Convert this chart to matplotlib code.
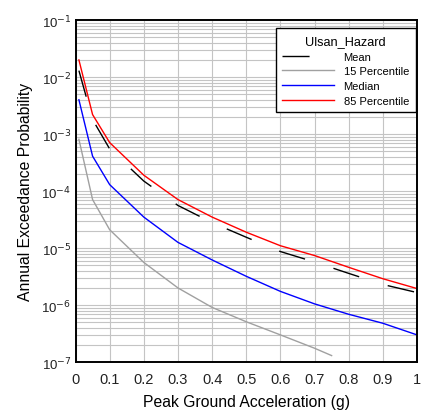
import numpy as np
import matplotlib
matplotlib.use("Agg")
from matplotlib import pyplot as plt

# hazard curves
pga = [0.01, 0.05, 0.1, 0.2, 0.3, 0.4, 0.5, 0.6, 0.7, 0.8, 0.9, 1.0]
mean = [1.3e-2, 1.8e-3, 5.5e-4, 1.5e-4, 5.6e-5, 2.8e-5, 1.55e-5, 8.7e-6, 5.7e-6, 3.6e-6, 2.3e-6, 1.66e-6]
median = [4.0e-3, 4.1e-4, 1.3e-4, 3.5e-5, 1.26e-5, 6.2e-6, 3.2e-6, 1.74e-6, 1.05e-6, 6.9e-7, 4.8e-7, 3.0e-7]
p85 = [2.0e-2, 2.2e-3, 7.1e-4, 1.9e-4, 7.1e-5, 3.5e-5, 1.9e-5, 1.1e-5, 7.4e-6, 4.6e-6, 2.9e-6, 1.95e-6]
pga15 = [0.01, 0.05, 0.1, 0.2, 0.3, 0.4, 0.5, 0.6, 0.7, 0.75]
p15 = [8.1e-4, 7.1e-5, 2.1e-5, 5.6e-6, 2.0e-6, 9.1e-7, 5.1e-7, 3.0e-7, 1.75e-7, 1.3e-7]

plt.rcParams['font.family'] = ['Liberation Sans', 'DejaVu Sans']

fig = plt.figure(figsize=(4.29, 4.14), dpi=100)
ax = fig.add_axes([0.176, 0.123, 0.796, 0.826])

ln, = ax.plot(pga, mean, color='black', lw=1.0, label='Mean')
ln.set_dashes((19.5, 21.5))
ax.plot(pga15, p15, color='#a0a0a0', lw=1.0, label='15 Percentile')
ax.plot(pga, median, color='#0000ff', lw=1.0, label='Median')
ax.plot(pga, p85, color='#ff0000', lw=1.0, label='85 Percentile')

ax.set_yscale('log')
ax.set_xlim(0, 1)
ax.set_ylim(1e-7, 1e-1)
ax.set_xticks(np.arange(0, 1.01, 0.1))
ax.set_xticklabels(['0', '0.1', '0.2', '0.3', '0.4', '0.5', '0.6', '0.7', '0.8', '0.9', '1'])
ax.set_yticks([1e-7, 1e-6, 1e-5, 1e-4, 1e-3, 1e-2, 1e-1])
ax.set_yticklabels([r'10$^{-%d}$' % k for k in [7, 6, 5, 4, 3, 2, 1]])
ax.tick_params(which='both', length=0, colors='#222222')
ax.tick_params(axis='x', pad=7, labelsize=10.5)
ax.tick_params(axis='y', pad=3, labelsize=9.5)

ax.grid(True, which='major', color='#c4c4c4', lw=0.8)
ax.grid(True, which='minor', axis='y', color='#c4c4c4', lw=0.8)
ax.set_axisbelow(True)
for s in ax.spines.values():
    s.set_linewidth(1.4)
    s.set_color('black')

ax.set_xlabel('Peak Ground Acceleration (g)', fontsize=11.3, labelpad=6)
ax.set_ylabel('Annual Exceedance Probability', fontsize=11.3, labelpad=6)

leg = ax.legend(title='Ulsan_Hazard', loc='upper right', bbox_to_anchor=(0.996, 0.976),
                borderaxespad=0, fontsize=8, title_fontsize=9.2, fancybox=False,
                framealpha=1, edgecolor='black', handlelength=4.6, borderpad=0.6,
                labelspacing=0.42, handletextpad=0.9)
leg.get_frame().set_linewidth(1.0)

fig.savefig('out.png', dpi=100)
